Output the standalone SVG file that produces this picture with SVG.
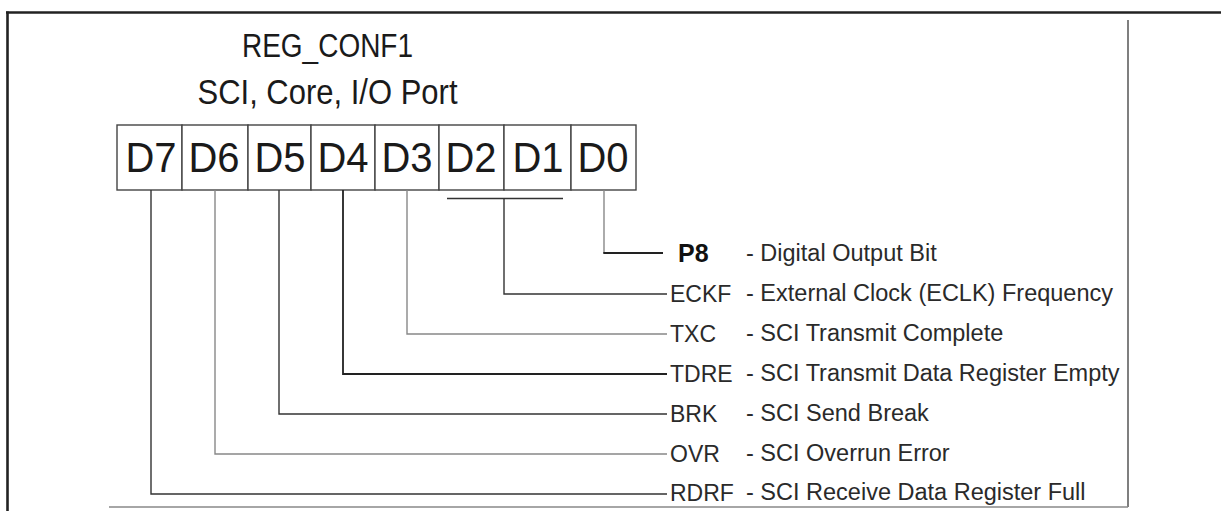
<svg xmlns="http://www.w3.org/2000/svg" width="1221" height="511" viewBox="0 0 1221 511">
<style>
text{font-family:"Liberation Sans",Arial,sans-serif;fill:#1a1a1a}
.title{font-size:28px;text-anchor:middle}
.sub{font-size:31px;text-anchor:middle}
.bit{font-size:40px;text-anchor:middle}
.lbl{font-size:23px;fill:#2a2a2a}
.desc{font-size:23.5px;fill:#2a2a2a}
.box{fill:#fff;stroke:#444;stroke-width:1.4}
.ld{fill:none;stroke:#333;stroke-width:1.4}
.lg{fill:none;stroke:#888;stroke-width:1.4}
.lk{fill:none;stroke:#222;stroke-width:1.8}
</style>
<g id="frame">
<line x1="6" y1="12.5" x2="1221" y2="12.5" stroke="#222" stroke-width="2.6"/>
<line x1="7.5" y1="11.5" x2="7.5" y2="511" stroke="#222" stroke-width="2.6"/>
<line x1="1128" y1="20" x2="1128" y2="507" stroke="#555" stroke-width="1.5"/>
<line x1="109" y1="507" x2="1128" y2="507" stroke="#888" stroke-width="1.6"/>
</g>
<g id="title">
<text class="title" transform="translate(327.5,57) scale(1,1.2)">REG_CONF1</text>
<text class="sub" transform="translate(327.5,104) scale(1,1.12)">SCI, Core, I/O Port</text>
</g>
<g id="register">
<rect class="box" x="117" y="125" width="65" height="65"/>
<rect class="box" x="182" y="125" width="66" height="65"/>
<rect class="box" x="248" y="125" width="63" height="65"/>
<rect class="box" x="311" y="125" width="64" height="65"/>
<rect class="box" x="375" y="125" width="64" height="65"/>
<rect class="box" x="439" y="125" width="65" height="65"/>
<rect class="box" x="504" y="125" width="67" height="65"/>
<rect class="box" x="571" y="125" width="65" height="65"/>
<g transform="translate(0,172) scale(1,1.08)">
<text class="bit" x="151" y="0">D7</text>
<text class="bit" x="214" y="0">D6</text>
<text class="bit" x="280" y="0">D5</text>
<text class="bit" x="343" y="0">D4</text>
<text class="bit" x="407" y="0">D3</text>
<text class="bit" x="471" y="0">D2</text>
<text class="bit" x="538" y="0">D1</text>
<text class="bit" x="603" y="0">D0</text>
</g>
</g>
<g id="connectors">
<polyline class="lg" points="604,190 604,253"/>
<polyline class="lk" points="603.3,253 663,253"/>
<line class="ld" x1="447" y1="198.5" x2="563" y2="198.5"/>
<polyline class="ld" points="504,198.5 504,294 667,294"/>
<polyline class="lg" points="407,190 407,334 667,334"/>
<polyline class="lk" points="343,190 343,374 667,374"/>
<polyline class="ld" points="279,190 279,414 667,414"/>
<polyline class="lg" points="215,190 215,454 667,454"/>
<polyline class="ld" points="151,190 151,494 667,494"/>
</g>
<g id="p8"><text x="678" y="261.5" font-size="25" font-weight="bold" style="fill:#111">P8</text><text class="desc" x="746" y="261">- Digital Output Bit</text></g>
<g id="eckf"><text class="lbl" x="670" y="301.5">ECKF</text><text class="desc" x="746" y="301">- External Clock (ECLK) Frequency</text></g>
<g id="txc"><text class="lbl" x="670" y="342">TXC</text><text class="desc" x="746" y="341">- SCI Transmit Complete</text></g>
<g id="tdre"><text class="lbl" x="670" y="382">TDRE</text><text class="desc" x="746" y="381">- SCI Transmit Data Register Empty</text></g>
<g id="brk"><text class="lbl" x="670" y="422">BRK</text><text class="desc" x="746" y="421">- SCI Send Break</text></g>
<g id="ovr"><text class="lbl" x="670" y="462">OVR</text><text class="desc" x="746" y="461">- SCI Overrun Error</text></g>
<g id="rdrf"><text class="lbl" x="670" y="501">RDRF</text><text class="desc" x="746" y="500">- SCI Receive Data Register Full</text></g>
</svg>
